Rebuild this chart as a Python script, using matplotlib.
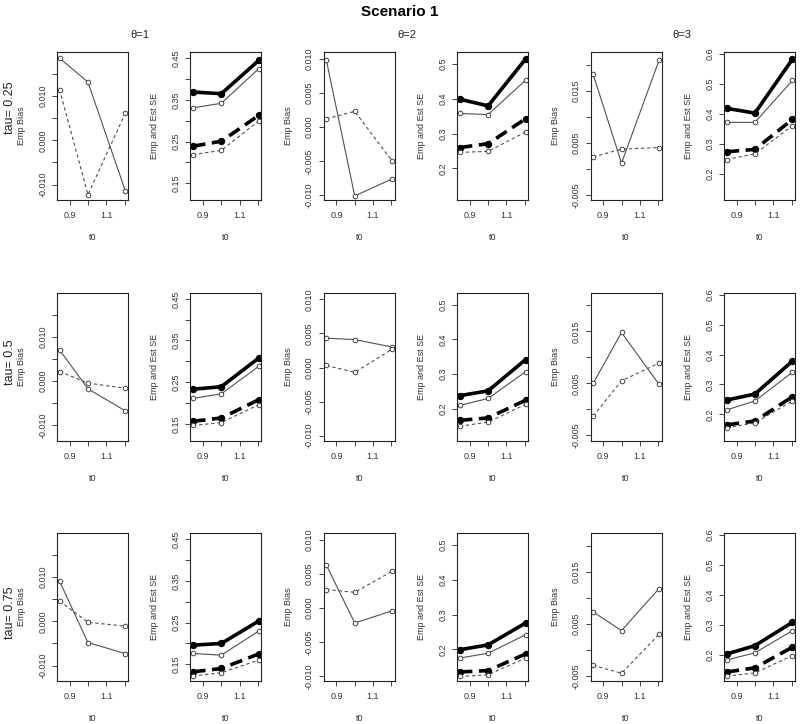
import matplotlib
matplotlib.use('Agg')
import matplotlib.pyplot as plt
import numpy as np

plt.rcParams['font.family'] = ['Liberation Sans', 'DejaVu Sans']

# t0 grid (x axis), same in every panel
t0 = [0.845, 1.0, 1.205]
theta_labels = ['θ=1', 'θ=2', 'θ=3']
tau_labels = ['tau= 0.25', 'tau= 0.5', 'tau= 0.75']

# empirical bias, indexed [theta][tau][t0]
bias_solid = [
    [[0.0186, 0.0132, -0.0115], [0.0070, -0.0018, -0.0068], [0.0091, -0.0048, -0.0073]],
    [[0.0098, -0.0101, -0.0076], [0.0043, 0.0041, 0.0030], [0.0063, -0.0022, -0.0004]],
    [[0.0182, 0.0011, 0.0209], [0.0050, 0.0148, 0.0048], [0.0073, 0.0037, 0.0118]],
]
bias_dashed = [
    [[0.0115, -0.0123, 0.0062], [0.0021, -0.0005, -0.0017], [0.0046, -0.0002, -0.0011]],
    [[0.0012, 0.0023, -0.0050], [0.0003, -0.0007, 0.0027], [0.0027, 0.0023, 0.0054]],
    [[0.0023, 0.0038, 0.0041], [-0.0013, 0.0055, 0.0089], [-0.0030, -0.0045, 0.0030]],
]

# empirical and estimated SE, indexed [theta][tau][t0]
se_emp_a = [
    [[0.369, 0.365, 0.445], [0.233, 0.239, 0.308], [0.196, 0.200, 0.254]],
    [[0.399, 0.380, 0.515], [0.238, 0.252, 0.342], [0.199, 0.213, 0.276]],
    [[0.419, 0.403, 0.583], [0.248, 0.268, 0.378], [0.203, 0.231, 0.309]],
]
se_est_a = [
    [[0.331, 0.342, 0.425], [0.211, 0.222, 0.288], [0.176, 0.172, 0.230]],
    [[0.358, 0.355, 0.454], [0.210, 0.230, 0.307], [0.175, 0.189, 0.242]],
    [[0.372, 0.372, 0.512], [0.215, 0.245, 0.341], [0.183, 0.207, 0.281]],
]
se_emp_b = [
    [[0.239, 0.251, 0.313], [0.156, 0.164, 0.208], [0.132, 0.140, 0.175]],
    [[0.260, 0.271, 0.343], [0.167, 0.174, 0.225], [0.135, 0.139, 0.187]],
    [[0.274, 0.282, 0.382], [0.165, 0.178, 0.259], [0.143, 0.157, 0.226]],
]
se_est_b = [
    [[0.219, 0.229, 0.300], [0.146, 0.153, 0.196], [0.122, 0.130, 0.160]],
    [[0.246, 0.249, 0.305], [0.150, 0.162, 0.213], [0.122, 0.127, 0.175]],
    [[0.248, 0.267, 0.361], [0.155, 0.172, 0.245], [0.129, 0.140, 0.198]],
]

# axis settings per theta
bias_ylim = [(-0.0135, 0.0200), (-0.0107, 0.0110), (-0.0060, 0.0225)]
bias_ticks = [np.arange(-0.010, 0.0151, 0.005), np.arange(-0.010, 0.0101, 0.005),
              np.arange(-0.005, 0.0201, 0.005)]
bias_labeled = [[-0.010, 0.000, 0.010], [-0.010, -0.005, 0.000, 0.005, 0.010],
                [-0.005, 0.005, 0.015]]
se_ylim = [(0.110, 0.465), (0.109, 0.535), (0.113, 0.607)]
se_ticks = [np.arange(0.15, 0.451, 0.05), np.arange(0.2, 0.51, 0.1), np.arange(0.2, 0.61, 0.1)]
se_labeled = [[0.15, 0.25, 0.35, 0.45], [0.2, 0.3, 0.4, 0.5], [0.2, 0.3, 0.4, 0.5, 0.6]]

W, H = 800, 724
fig = plt.figure(figsize=(W / 100, H / 100), dpi=100)

txt = '#333333'
thin_col = '#505050'


def fmt(v, labeled, nd):
    for l in labeled:
        if abs(v - l) < 1e-9:
            s = f'{v:.{nd}f}'
            return '0.000' if s == '-0.000' else s
    return ''


def style_axes(ax, ticks, labeled, nd, ylabel):
    ax.set_xlim(0.831, 1.219)
    ax.set_xticks([0.9, 1.0, 1.1, 1.2])
    ax.set_xticklabels(['0.9', '', '1.1', ''])
    ax.set_yticks(ticks)
    ax.set_yticklabels([fmt(v, labeled, nd) for v in ticks], rotation=90, va='center')
    ax.tick_params(direction='out', length=3.5, width=0.6, labelsize=6.5,
                   colors='#222222', labelcolor=txt)
    ax.tick_params(axis='x', pad=4.5)
    ax.tick_params(axis='y', pad=3.5)
    for sp in ax.spines.values():
        sp.set_linewidth(0.8)
        sp.set_color('#222222')
    ax.set_xlabel('t0', fontsize=6.5, color=txt)
    ax.set_ylabel(ylabel, fontsize=6.5, color=txt)
    w = ax.get_position().width * W
    h = ax.get_position().height * H
    ax.xaxis.set_label_coords(0.5, -33 / h)
    ax.yaxis.set_label_coords(-31 / w, 0.5)


open_kw = dict(marker='o', ms=3.3, mfc='white', mec='#404040', mew=0.7)
fill_kw = dict(marker='o', ms=4.3, mfc='black', mec='black')

for r in range(3):
    top = 52 + 240.5 * r
    for c in range(6):
        left = 57 + 133.4 * c
        ax = fig.add_axes([left / W, 1 - (top + 148) / H, 71 / W, 148 / H])
        th = c // 2
        if c % 2 == 0:
            ax.plot(t0, bias_solid[th][r], color=thin_col, lw=0.8, **open_kw)
            ax.plot(t0, bias_dashed[th][r], color=thin_col, lw=0.8,
                    ls=(0, (3, 2.5)), **open_kw)
            ax.set_ylim(*bias_ylim[th])
            style_axes(ax, bias_ticks[th], bias_labeled[th], 3, 'Emp Bias')
        else:
            ax.plot(t0, se_emp_a[th][r], color='black', lw=2.6, **fill_kw)
            ax.plot(t0, se_est_a[th][r], color=thin_col, lw=0.8, **open_kw)
            ax.plot(t0, se_emp_b[th][r], color='black', lw=2.6,
                    ls=(0, (3.5, 1.8)), **fill_kw)
            ax.plot(t0, se_est_b[th][r], color=thin_col, lw=0.8,
                    ls=(0, (3, 2.5)), **open_kw)
            ax.set_ylim(*se_ylim[th])
            nd = 2 if th == 0 else 1
            style_axes(ax, se_ticks[th], se_labeled[th], nd, 'Emp and Est SE')

fig.text(400 / W, 1 - 12 / H, 'Scenario 1', ha='center', va='center',
         fontsize=11, fontweight='bold')
for x, lab in zip([140, 407, 682], theta_labels):
    fig.text(x / W, 1 - 35 / H, lab, ha='center', va='center', fontsize=8, color='#222222')
for y, lab in zip([108, 362, 613], tau_labels):
    fig.text(10 / W, 1 - y / H, lab, ha='center', va='center', rotation=90,
             fontsize=9, color='#222222')

fig.savefig('out.png', dpi=100)
